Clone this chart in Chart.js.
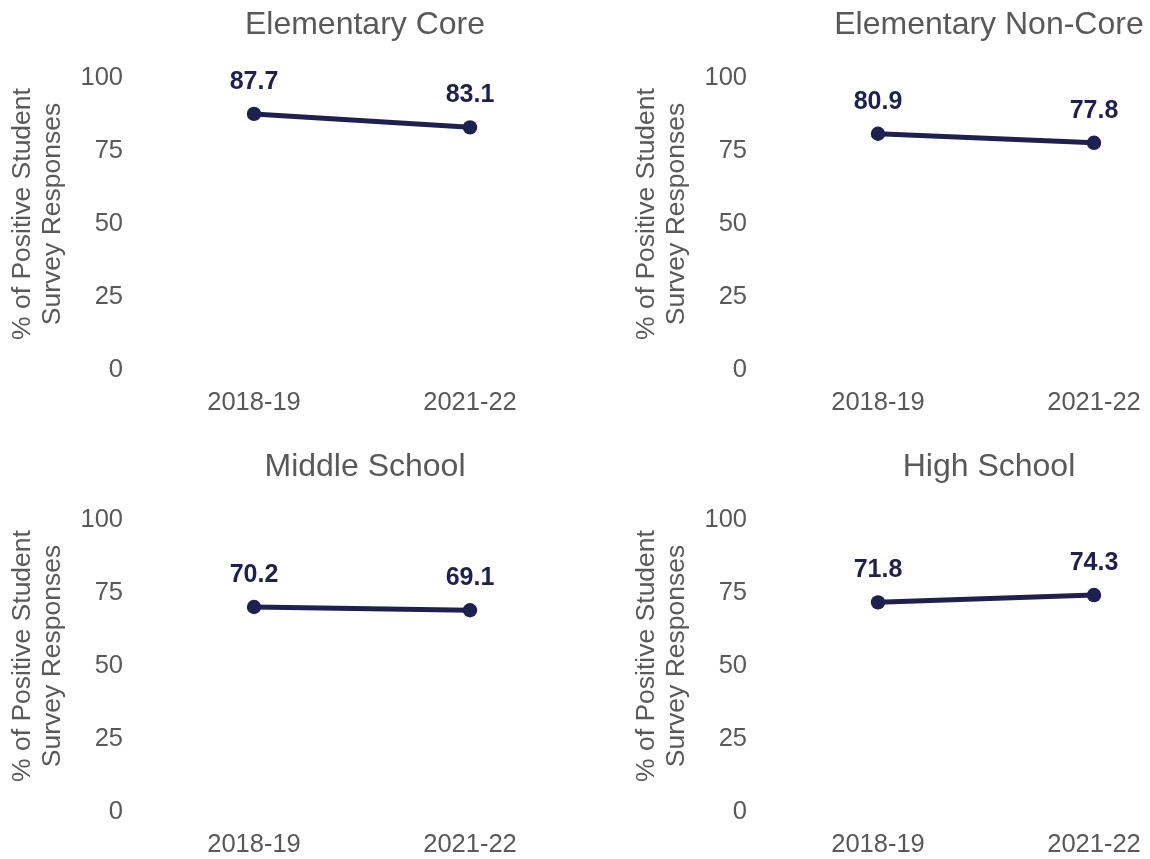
<!DOCTYPE html>
<html>
<head>
<meta charset="utf-8">
<script src="https://cdn.jsdelivr.net/npm/chart.js@4.4.1/dist/chart.umd.min.js"></script>
<style>
  html, body { margin: 0; padding: 0; background: #fff; }
  #wrap { position: relative; width: 1150px; height: 859px; }
  canvas { position: absolute; display: block; }
</style>
</head>
<body>
<div id="wrap">
  <canvas id="c0" width="526" height="417" style="left:0;top:0"></canvas>
  <canvas id="c1" width="526" height="417" style="left:624px;top:0"></canvas>
  <canvas id="c2" width="526" height="417" style="left:0;top:442px"></canvas>
  <canvas id="c3" width="526" height="417" style="left:624px;top:442px"></canvas>
</div>
<script>
// school years on the x axis
const years = ['2018-19', '2021-22'];

// % positive student survey responses per school level
const elementaryCore = [87.7, 83.1];
const elementaryNonCore = [80.9, 77.8];
const middleSchool = [70.2, 69.1];
const highSchool = [71.8, 74.3];

const panelTitles = ['Elementary Core', 'Elementary Non-Core', 'Middle School', 'High School'];
const panelValues = [elementaryCore, elementaryNonCore, middleSchool, highSchool];

const yTicks = [0, 25, 50, 75, 100];
const yTitle = ['% of Positive Student', 'Survey Responses'];

const navy = '#1f2050';
const grey = '#595959';
const fontFamily = 'Arial, "Liberation Sans", sans-serif';

// panel heading, rotated y-axis title and the value above each point
const panelText = {
  id: 'panelText',
  afterDatasetsDraw(chart, args, opts) {
    const ctx = chart.ctx;
    const area = chart.chartArea;
    const ds = chart.data.datasets[0];
    const meta = chart.getDatasetMeta(0);
    ctx.save();
    ctx.textAlign = 'center';
    ctx.textBaseline = 'middle';

    ctx.font = '32px ' + fontFamily;
    ctx.fillStyle = grey;
    ctx.fillText(opts.text, (area.left + area.right) / 2 + 3, 25);

    // two-line axis title, read bottom to top
    ctx.save();
    ctx.translate(0, (area.top + area.bottom) / 2 - 10);
    ctx.rotate(-Math.PI / 2);
    ctx.font = '26.5px ' + fontFamily;
    yTitle.forEach((line, i) => ctx.fillText(line, 0, 22.5 + i * 30));
    ctx.restore();

    ctx.font = 'bold 25px ' + fontFamily;
    ctx.fillStyle = navy;
    meta.data.forEach((pt, i) => {
      ctx.fillText(ds.data[i].toFixed(1), pt.x, pt.y - 32);
    });
    ctx.restore();
  }
};

panelValues.forEach((values, idx) => {
  new Chart(document.getElementById('c' + idx), {
    type: 'line',
    data: {
      labels: years,
      datasets: [{
        data: values,
        borderColor: navy,
        backgroundColor: navy,
        borderWidth: 5,
        pointRadius: 7.2,
        pointHoverRadius: 7.2,
        pointBackgroundColor: navy,
        pointBorderWidth: 0,
        clip: false
      }]
    },
    options: {
      responsive: false,
      animation: false,
      layout: { padding: { left: 0, right: 56, top: 78, bottom: 0 } },
      plugins: {
        legend: { display: false },
        tooltip: { enabled: false },
        title: { display: false },
        panelText: { text: panelTitles[idx] }
      },
      scales: {
        x: {
          offset: false,
          grid: { display: false, drawTicks: false },
          border: { display: false },
          ticks: {
            color: grey,
            font: { family: fontFamily, size: 25.5 },
            padding: 18,
            maxRotation: 0
          },
          afterFit: s => {
            s.height = 47;
            s.paddingLeft = 0;
            s.paddingRight = 0;
          }
        },
        y: {
          min: 0,
          max: 100,
          grid: { display: false, drawTicks: false },
          border: { display: false },
          afterBuildTicks: s => { s.ticks = yTicks.map(v => ({ value: v })); },
          ticks: {
            color: grey,
            font: { family: fontFamily, size: 25.5 },
            padding: 131
          },
          afterFit: s => {
            s.width = 254;
            s.paddingTop = 0;
            s.paddingBottom = 0;
          }
        }
      }
    },
    plugins: [panelText]
  });
});
</script>
</body>
</html>
